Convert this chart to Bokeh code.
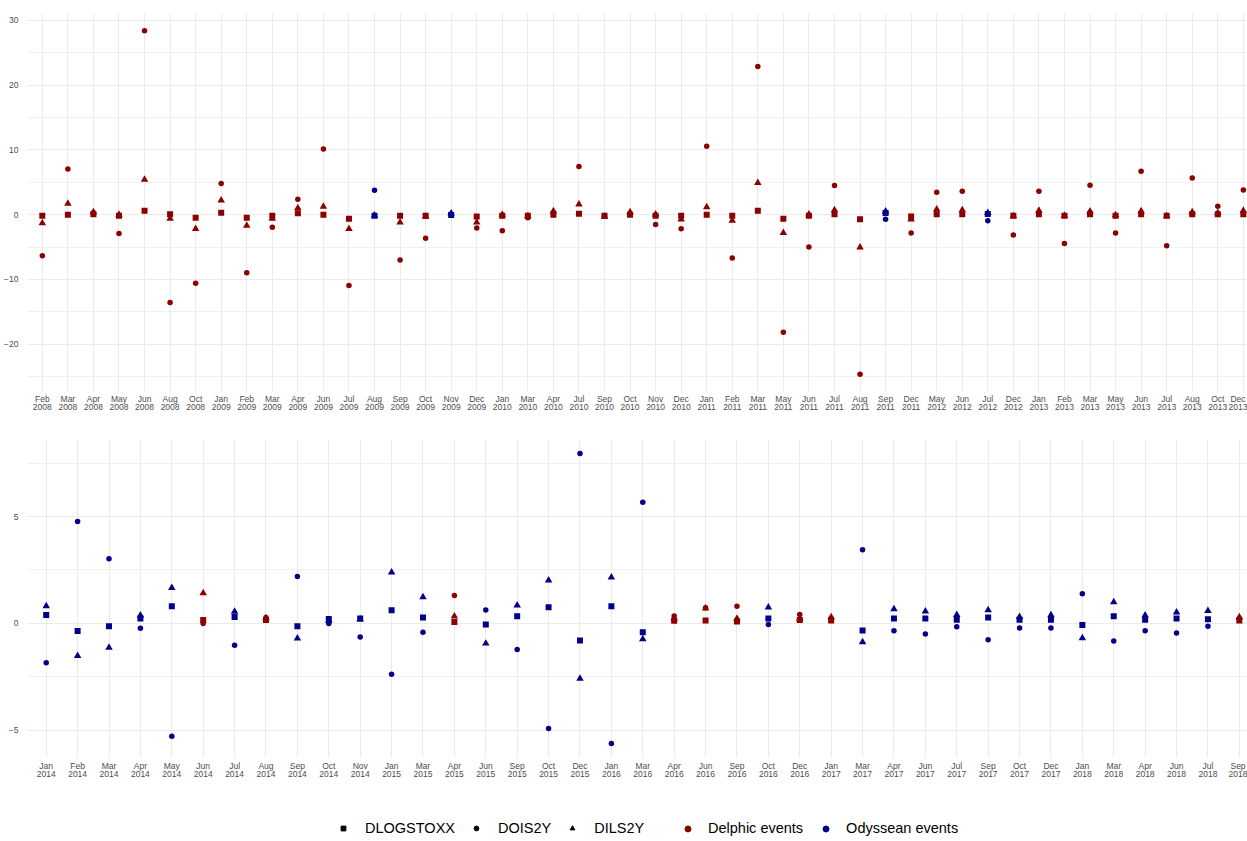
from bokeh.plotting import figure
from bokeh.models import ColumnDataSource, Range1d, FixedTicker, Legend, LegendItem
from bokeh.layouts import column
from bokeh.embed import file_html
from bokeh.resources import INLINE

# ---------------- data ----------------
top_labels = ["Feb 2008", "Mar 2008", "Apr 2008", "May 2008", "Jun 2008", "Aug 2008", "Oct 2008",
              "Jan 2009", "Feb 2009", "Mar 2009", "Apr 2009", "Jun 2009", "Jul 2009", "Aug 2009",
              "Sep 2009", "Oct 2009", "Nov 2009", "Dec 2009", "Jan 2010", "Mar 2010", "Apr 2010",
              "Jul 2010", "Sep 2010", "Oct 2010", "Nov 2010", "Dec 2010", "Jan 2011", "Feb 2011",
              "Mar 2011", "May 2011", "Jun 2011", "Jul 2011", "Aug 2011", "Sep 2011", "Dec 2011",
              "May 2012", "Jun 2012", "Jul 2012", "Dec 2012", "Jan 2013", "Feb 2013", "Mar 2013",
              "May 2013", "Jun 2013", "Jul 2013", "Aug 2013", "Oct 2013", "Dec 2013"]
top_dlogstoxx = [-0.15, 0.0, 0.05, -0.15, 0.62, 0.05, -0.46, 0.3, -0.46, -0.15, 0.2, 0.0, -0.62,
                 -0.15, -0.15, -0.15, -0.05, -0.3, -0.15, -0.15, 0.0, 0.15, -0.15, 0.0, -0.15,
                 -0.15, 0.0, -0.15, 0.62, -0.62, -0.15, 0.05, -0.72, 0.26, -0.3, 0.05, 0.05, 0.1,
                 -0.15, 0.05, -0.15, 0.05, -0.15, 0.05, -0.15, 0.05, 0.05, 0.05]
top_dois2y = [-6.35, 7.07, 0.3, -2.9, 28.4, -13.57, -10.58, 4.8, -8.98, -1.96, 2.37, 10.16, -10.94,
              3.77, -7.02, -3.66, 0.1, -2.06, -2.48, -0.46, 0.3, 7.43, -0.25, 0.15, -1.5, -2.17,
              10.58, -6.7, 22.9, -18.16, -5.0, 4.49, -24.66, -0.72, -2.84, 3.46, 3.61, -0.93,
              -3.15, 3.61, -4.44, 4.54, -2.84, 6.7, -4.8, 5.67, 1.29, 3.82]
top_dils2y = [-1.3, 1.7, 0.4, 0.0, 5.42, -0.6, -2.2, 2.2, -1.7, -0.6, 1.03, 1.24, -2.2, -0.1, -1.2,
              -0.3, 0.2, -1.2, 0.0, -0.2, 0.57, 1.6, -0.3, 0.4, 0.05, -0.72, 1.19, -0.93, 4.9,
              -2.8, 0.05, 0.72, -5.06, 0.5, -0.72, 0.83, 0.72, 0.3, -0.2, 0.62, -0.15, 0.5, -0.05,
              0.57, -0.2, 0.4, 0.3, 0.62]
top_events = ["Delphic"] * 13 + ["Odyssean"] + ["Delphic"] * 2 + ["Odyssean"] + ["Delphic"] * 16 \
    + ["Odyssean"] + ["Delphic"] * 3 + ["Odyssean"] + ["Delphic"] * 10

bot_labels = ["Jan 2014", "Feb 2014", "Mar 2014", "Apr 2014", "May 2014", "Jun 2014", "Jul 2014",
              "Aug 2014", "Sep 2014", "Oct 2014", "Nov 2014", "Jan 2015", "Mar 2015", "Apr 2015",
              "Jun 2015", "Sep 2015", "Oct 2015", "Dec 2015", "Jan 2016", "Mar 2016", "Apr 2016",
              "Jun 2016", "Sep 2016", "Oct 2016", "Dec 2016", "Jan 2017", "Mar 2017", "Apr 2017",
              "Jun 2017", "Jul 2017", "Sep 2017", "Oct 2017", "Dec 2017", "Jan 2018", "Mar 2018",
              "Apr 2018", "Jun 2018", "Jul 2018", "Sep 2018"]
bot_dlogstoxx = [0.39, -0.36, -0.13, 0.23, 0.8, 0.16, 0.3, 0.16, -0.13, 0.2, 0.23, 0.61, 0.28,
                 0.06, -0.05, 0.33, 0.75, -0.8, 0.8, -0.42, 0.125, 0.14, 0.09, 0.23, 0.16, 0.14,
                 -0.33, 0.23, 0.23, 0.17, 0.28, 0.17, 0.17, -0.08, 0.33, 0.17, 0.23, 0.19, 0.14]
bot_dois2y = [-1.84, 4.77, 3.03, -0.23, -5.28, 0.0, -1.02, 0.28, 2.19, 0.0, -0.64, -2.38, -0.42,
              1.31, 0.625, -1.22, -4.92, 7.95, -5.63, 5.67, 0.34, 0.73, 0.8, -0.05, 0.41, 0.22,
              3.45, -0.34, -0.5, -0.16, -0.77, -0.22, -0.22, 1.39, -0.83, -0.34, -0.45, -0.14, 0.22]
bot_dils2y = [0.81, -1.52, -1.13, 0.375, 1.66, 1.42, 0.55, 0.25, -0.7, 0.12, 0.19, 2.39, 1.23,
              0.33, -0.94, 0.84, 2.02, -2.59, 2.16, -0.73, 0.22, 0.7, 0.23, 0.75, 0.22, 0.3,
              -0.875, 0.67, 0.56, 0.4, 0.625, 0.31, 0.39, -0.69, 1.0, 0.375, 0.52, 0.59, 0.3]
bot_events = ["Odyssean"] * 5 + ["Delphic", "Odyssean", "Delphic"] + ["Odyssean"] * 5 \
    + ["Delphic"] + ["Odyssean"] * 6 + ["Delphic"] * 3 + ["Odyssean", "Delphic", "Delphic"] \
    + ["Odyssean"] * 12 + ["Delphic"]

top_yticks = [-20, -10, 0, 10, 20, 30]
top_yminor = [-25, -15, -5, 5, 15, 25]
bot_yticks = [-5, 0, 5]
bot_yminor = [-7.5, -2.5, 2.5, 7.5]

shape_names = ["DLOGSTOXX", "DOIS2Y", "DILS2Y"]
event_names = ["Delphic events", "Odyssean events"]

# ---------------- style ----------------
RED = "#8B0000"
BLUE = "#00008B"
EVENT_COLORS = {"Delphic": RED, "Odyssean": BLUE}
GRID = "#EBEBEB"
TICK_COLOR = "#4D4D4D"
FONT = "Liberation Sans"
W = 1247


def fmt(t):
    s = ("%g" % abs(t))
    return s if t >= 0 else "\u2212" + s


def make_panel(labels, stoxx, ois, ils, events, height, xr, yr, btop, bbottom, yticks, yminor, standoff):
    n = len(labels)
    p = figure(width=W, height=height, x_range=Range1d(*xr), y_range=Range1d(*yr),
               output_backend="svg", toolbar_location=None,
               min_border_left=27, min_border_right=0, min_border_top=btop,
               min_border_bottom=bbottom)
    xs = list(range(n))
    src = ColumnDataSource(dict(x=xs, stoxx=stoxx, ois=ois, ils=ils,
                                col=[EVENT_COLORS[e] for e in events]))
    p.scatter("x", "ois", source=src, marker="circle", size=5.5, fill_color="col", line_color=None)
    p.scatter("x", "ils", source=src, marker="triangle", size=7.5, fill_color="col", line_color=None)
    p.scatter("x", "stoxx", source=src, marker="square", size=6, fill_color="col", line_color=None)

    xt = FixedTicker(ticks=xs, minor_ticks=[])
    yt = FixedTicker(ticks=yticks, minor_ticks=yminor)
    p.xaxis.ticker = xt
    p.yaxis.ticker = yt
    p.xgrid.ticker = xt
    p.ygrid.ticker = yt
    p.xaxis.major_label_overrides = {i: lab.replace(" ", "\n") for i, lab in enumerate(labels)}
    p.yaxis.major_label_overrides = {t: fmt(t) for t in yticks}
    p.xgrid.grid_line_color = GRID
    p.ygrid.grid_line_color = GRID
    p.ygrid.minor_grid_line_color = GRID
    p.ygrid.minor_grid_line_width = 0.7
    for ax in (p.xaxis[0], p.yaxis[0]):
        ax.axis_line_color = None
        ax.major_tick_line_color = None
        ax.minor_tick_line_color = None
        ax.major_tick_out = 0
        ax.major_tick_in = 0
        ax.major_label_text_font = FONT
        ax.major_label_text_font_size = "8.5px"
        ax.major_label_text_color = TICK_COLOR
    p.xaxis.major_label_text_line_height = 0.85
    p.xaxis.major_label_standoff = standoff
    p.yaxis.major_label_standoff = 5
    p.outline_line_color = None
    return p


p1 = make_panel(top_labels, top_dlogstoxx, top_dois2y, top_dils2y, top_events,
                425, (-0.58, 47.163), (-27.32, 31.08), 13, 34, top_yticks, top_yminor, 2)
p2 = make_panel(bot_labels, bot_dlogstoxx, bot_dois2y, bot_dils2y, bot_events,
                360, (-0.596, 38.26), (-6.28, 8.61), 14, 28, bot_yticks, bot_yminor, 3)

# ---------------- legend strip ----------------
p3 = figure(width=W, height=51, x_range=Range1d(0, 1), y_range=Range1d(0, 1),
            output_backend="svg", toolbar_location=None, min_border=0,
            x_axis_location=None, y_axis_location=None)
p3.grid.visible = False
p3.outline_line_color = None

r_sq = p3.scatter(x=[-10], y=[-10], marker="square", size=5, color="black")
r_ci = p3.scatter(x=[-10], y=[-10], marker="circle", size=5, color="black")
r_tr = p3.scatter(x=[-10], y=[-10], marker="triangle", size=5, color="black")
r_d = p3.scatter(x=[-10], y=[-10], marker="circle", size=6, color=RED)
r_o = p3.scatter(x=[-10], y=[-10], marker="circle", size=6, color=BLUE)

leg1 = Legend(items=[LegendItem(label=shape_names[0], renderers=[r_sq]),
                     LegendItem(label=shape_names[1], renderers=[r_ci]),
                     LegendItem(label=shape_names[2], renderers=[r_tr])],
              location=(310, 0), orientation="horizontal", padding=0, margin=0,
              border_line_color=None, background_fill_alpha=0,
              glyph_width=12, glyph_height=12, label_standoff=16, spacing=15,
              label_height=16, label_text_font=FONT, label_text_font_size="14.5px",
              label_text_color="black")
leg2 = Legend(items=[LegendItem(label=event_names[0], renderers=[r_d]),
                     LegendItem(label=event_names[1], renderers=[r_o])],
              location=(653, 0), orientation="horizontal", padding=0, margin=0,
              border_line_color=None, background_fill_alpha=0,
              glyph_width=15, glyph_height=15, label_standoff=13, spacing=15,
              label_height=16, label_text_font=FONT, label_text_font_size="14.5px",
              label_text_color="black")
p3.add_layout(leg1, "center")
p3.add_layout(leg2, "center")

layout = column(p1, p2, p3)
open("out.html", "w").write(file_html(layout, INLINE))
